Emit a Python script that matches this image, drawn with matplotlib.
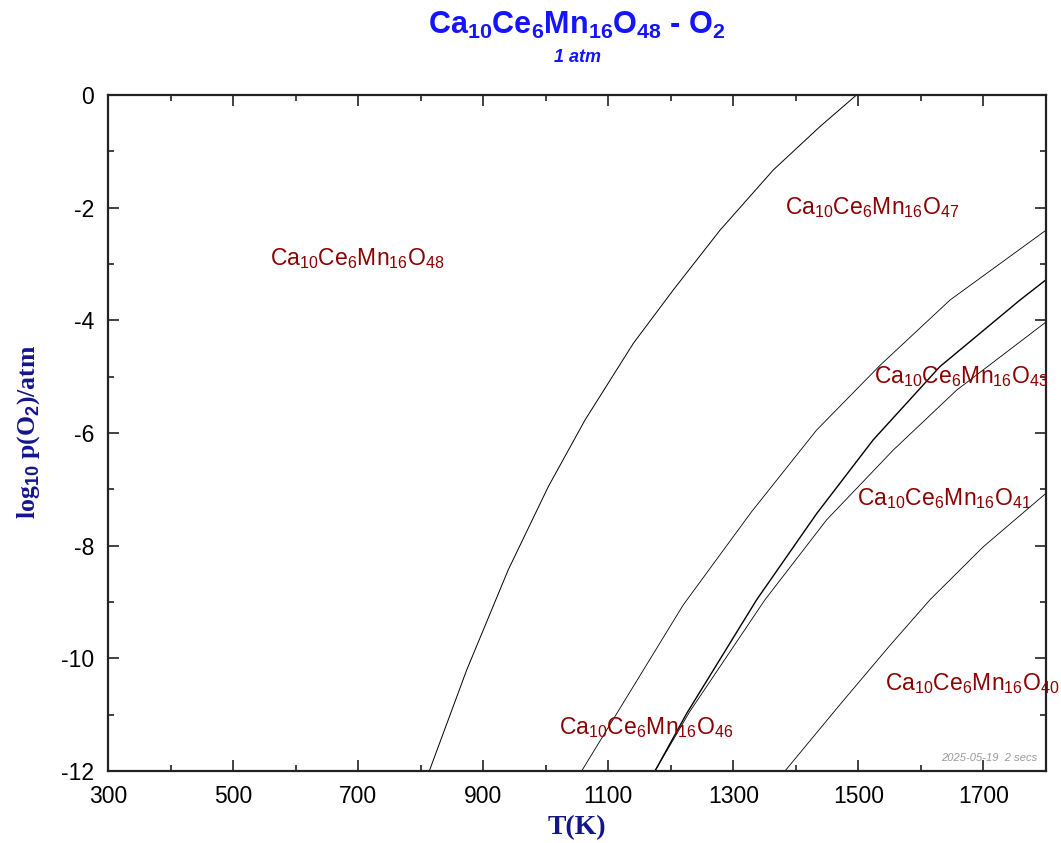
import numpy as np
import matplotlib
matplotlib.use("Agg")
import matplotlib.pyplot as plt
from matplotlib.ticker import MultipleLocator

plt.rcParams['font.family'] = ['Liberation Sans', 'DejaVu Sans']
plt.rcParams['mathtext.fontset'] = 'custom'
plt.rcParams['mathtext.rm'] = 'Liberation Sans'
plt.rcParams['mathtext.it'] = 'Liberation Sans:italic'
plt.rcParams['mathtext.bf'] = 'Liberation Sans:bold'
plt.rcParams['axes.unicode_minus'] = False

# phase boundaries (T in K, log10 pO2)
t_48_47 = [813.8, 873.5, 940, 1004.2, 1062.8, 1140, 1204, 1278.7, 1364, 1438.6, 1497]
p_48_47 = [-12.0, -10.21, -8.43, -6.95, -5.77, -4.41, -3.46, -2.40, -1.33, -0.56, 0.0]

t_47_46 = [1057.4, 1140, 1220, 1329, 1433, 1534.5, 1646.5, 1800]
p_47_46 = [-12.0, -10.5, -9.05, -7.4, -5.95, -4.8, -3.64, -2.40]

t_46_43 = [1174.7, 1225.3, 1337.3, 1433.3, 1523.8, 1630.5, 1758.4, 1800]
p_46_43 = [-12.0, -10.98, -8.96, -7.43, -6.12, -4.82, -3.64, -3.28]

t_43_41 = [1174.7, 1230, 1350.6, 1449.3, 1556, 1657, 1800]
p_43_41 = [-12.0, -10.95, -8.96, -7.54, -6.30, -5.24, -4.03]

t_41_40 = [1382.6, 1470.6, 1550.5, 1614.5, 1699.7, 1800]
p_41_40 = [-12.0, -10.82, -9.77, -8.96, -8.02, -7.07]

# phase labels
phase_names = [r'Ca$_{10}$Ce$_6$Mn$_{16}$O$_{48}$', r'Ca$_{10}$Ce$_6$Mn$_{16}$O$_{47}$',
               r'Ca$_{10}$Ce$_6$Mn$_{16}$O$_{46}$', r'Ca$_{10}$Ce$_6$Mn$_{16}$O$_{43}$',
               r'Ca$_{10}$Ce$_6$Mn$_{16}$O$_{41}$', r'Ca$_{10}$Ce$_6$Mn$_{16}$O$_{40}$']
phase_t = [698, 1522, 1161, 1664, 1637, 1682]
phase_p = [-2.91, -1.99, -11.22, -5.0, -7.17, -10.44]

fig = plt.figure(figsize=(10.61, 8.43), dpi=100)
ax = fig.add_axes([108 / 1061, 72 / 843, 938 / 1061, 676 / 843])

ax.plot(t_48_47, p_48_47, color='black', lw=0.7)
ax.plot(t_47_46, p_47_46, color='black', lw=0.6)
ax.plot(t_46_43, p_46_43, color='black', lw=1.0)
ax.plot(t_43_41, p_43_41, color='black', lw=0.6)
ax.plot(t_41_40, p_41_40, color='black', lw=0.6)

for name, t, p in zip(phase_names, phase_t, phase_p):
    ax.text(t, p, name, color='#8b0000', fontsize=16.5, ha='center', va='center', clip_on=False)

ax.set_xlim(300, 1800)
ax.set_ylim(-12, 0)
ax.xaxis.set_minor_locator(MultipleLocator(100))
ax.yaxis.set_major_locator(MultipleLocator(2))
ax.yaxis.set_minor_locator(MultipleLocator(1))
ax.set_xticks(np.arange(300, 1800, 200))
ax.tick_params(which='both', direction='in', top=True, right=True, labelsize=16.5, width=1.2, color='#222222')
ax.tick_params(which='major', length=8, pad=10)
ax.tick_params(which='minor', length=4)
for s in ax.spines.values():
    s.set_linewidth(1.6)
    s.set_color('#222222')

fig.text(577 / 1061, 1 - 25 / 843, r'Ca$_{\mathbf{10}}$Ce$_{\mathbf{6}}$Mn$_{\mathbf{16}}$O$_{\mathbf{48}}$ - O$_{\mathbf{2}}$',
         color='#1414ff', fontsize=22, fontweight='bold', ha='center', va='center')
fig.text(578 / 1061, 1 - 58 / 843, '1 atm', color='#1414ff', fontsize=13, fontweight='bold',
         style='italic', ha='center', va='center')
fig.text(29 / 1061, 1 - 432 / 843, r'log$_{\mathbf{10}}$ p(O$_{\mathbf{2}}$)/atm', color='#14148c',
         fontsize=18.5, fontweight='bold', family='Liberation Serif', rotation=90, ha='center', va='center')
fig.text(577 / 1061, 1 - 828 / 843, 'T(K)', color='#14148c', fontsize=20, fontweight='bold',
         family='Liberation Serif', ha='center', va='center')
fig.text(1037 / 1061, 1 - 758 / 843, '2025-05-19  2 secs', color='#999999', fontsize=8,
         style='italic', ha='right', va='center')

fig.savefig('out.png', dpi=100)
